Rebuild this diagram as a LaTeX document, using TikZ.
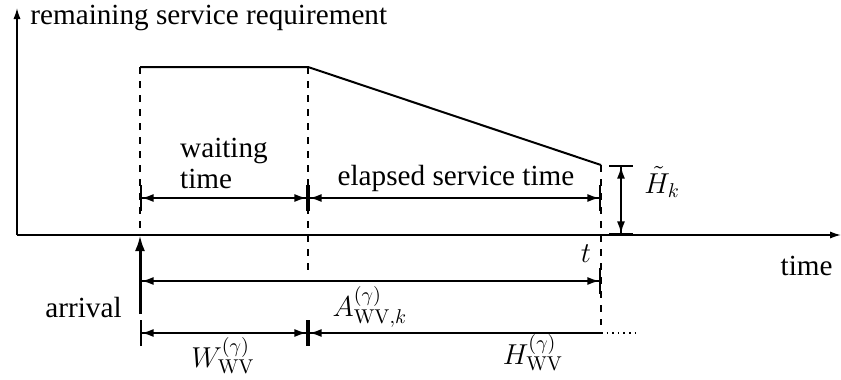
\documentclass[tikz,border=0pt]{standalone}
\usepackage[no-math]{fontspec}
\setmainfont{Liberation Serif}
\usetikzlibrary{arrows.meta}
\begin{document}
\begin{tikzpicture}[x=0.5pt,y=-0.5pt,font=\fontsize{14.6pt}{15.5pt}\selectfont]
\tikzstyle{every node}+=[inner sep=0pt]
\tikzstyle{axis}=[line width=0.8pt,-{Latex[length=5.5pt,width=3.6pt]}]
\tikzstyle{curve}=[line width=1pt]
\tikzstyle{guide}=[line width=0.6pt,dash pattern=on 3.5pt off 3.5pt]
\tikzstyle{span}=[line width=0.8pt,{Bar[width=13pt]Latex[length=6pt,width=4pt]}-{Latex[length=6pt,width=4pt]Bar[width=13pt]}]
\tikzstyle{lspan}=[line width=0.8pt,{Bar[width=13pt]Latex[length=6pt,width=4pt]}-]
\useasboundingbox (0,0) rectangle (841,380);

\coordinate (origin) at (17,235);
\coordinate (ytip)   at (17,8);
\coordinate (xtip)   at (841,235);
\coordinate (arr)    at (140,67);
\coordinate (begin)  at (308,67);
\coordinate (now)    at (601,165);
\coordinate (arr0)   at (140,235);
\coordinate (begin0) at (308,276);
\coordinate (now0)   at (601,325);
\coordinate (bar1)   at (621,165);
\coordinate (bar0)   at (621,235);
\coordinate (wa)     at (140,198);
\coordinate (wb)     at (308,198);
\coordinate (wc)     at (601,198);
\coordinate (aa)     at (140,281);
\coordinate (ab)     at (601,281);
\coordinate (ha)     at (140,333);
\coordinate (hb)     at (308,333);
\coordinate (hc)     at (601,333);
\coordinate (hd)     at (636,333);
\coordinate (foot)   at (140,314);

\node (ylab) [anchor=base west] at (30,25)   {remaining service requirement};
\node (xlab) [anchor=base east] at (833,275) {time};
\node (wait) [align=left]       at (224,163) {waiting\\time};
\node (serv) [anchor=base]      at (456,185) {elapsed service time};
\node (rem)  [anchor=base west] at (644,193) {$\tilde H_k$};
\node (t)    [anchor=base]      at (586,262) {$t$};
\node (arrl) [anchor=base east] at (122,317) {arrival};
\node (age)  [anchor=base]      at (370,316) {$A^{(\gamma)}_{\mathrm{WV},k}$};
\node (wt)   [anchor=base]      at (223,367) {$W^{(\gamma)}_{\mathrm{WV}}$};
\node (st)   [anchor=base]      at (533,364) {$H^{(\gamma)}_{\mathrm{WV}}$};

\draw[axis] (origin) -- (ytip);
\draw[axis] (origin) -- (xtip);
\draw[curve] (arr) -- (begin) -- (now);
\draw[guide] (arr) -- (arr0) (begin) -- (begin0) (now) -- (now0);
\draw[line width=1.5pt,-{Latex[length=8pt,width=5pt]}] (foot) -- (arr0);
\path (wa) edge[span]  (wb)
      (wb) edge[span]  (wc)
      (aa) edge[span]  (ab)
      (ha) edge[span]  (hb)
      (hb) edge[lspan] (hc)
      (hc) edge[line width=0.8pt,dotted] (hd)
      (bar1) edge[line width=0.8pt,{Bar[width=12pt]Latex[length=6pt,width=4pt]}-{Latex[length=6pt,width=4pt]Bar[width=12pt]}] (bar0);
\end{tikzpicture}
\end{document}
